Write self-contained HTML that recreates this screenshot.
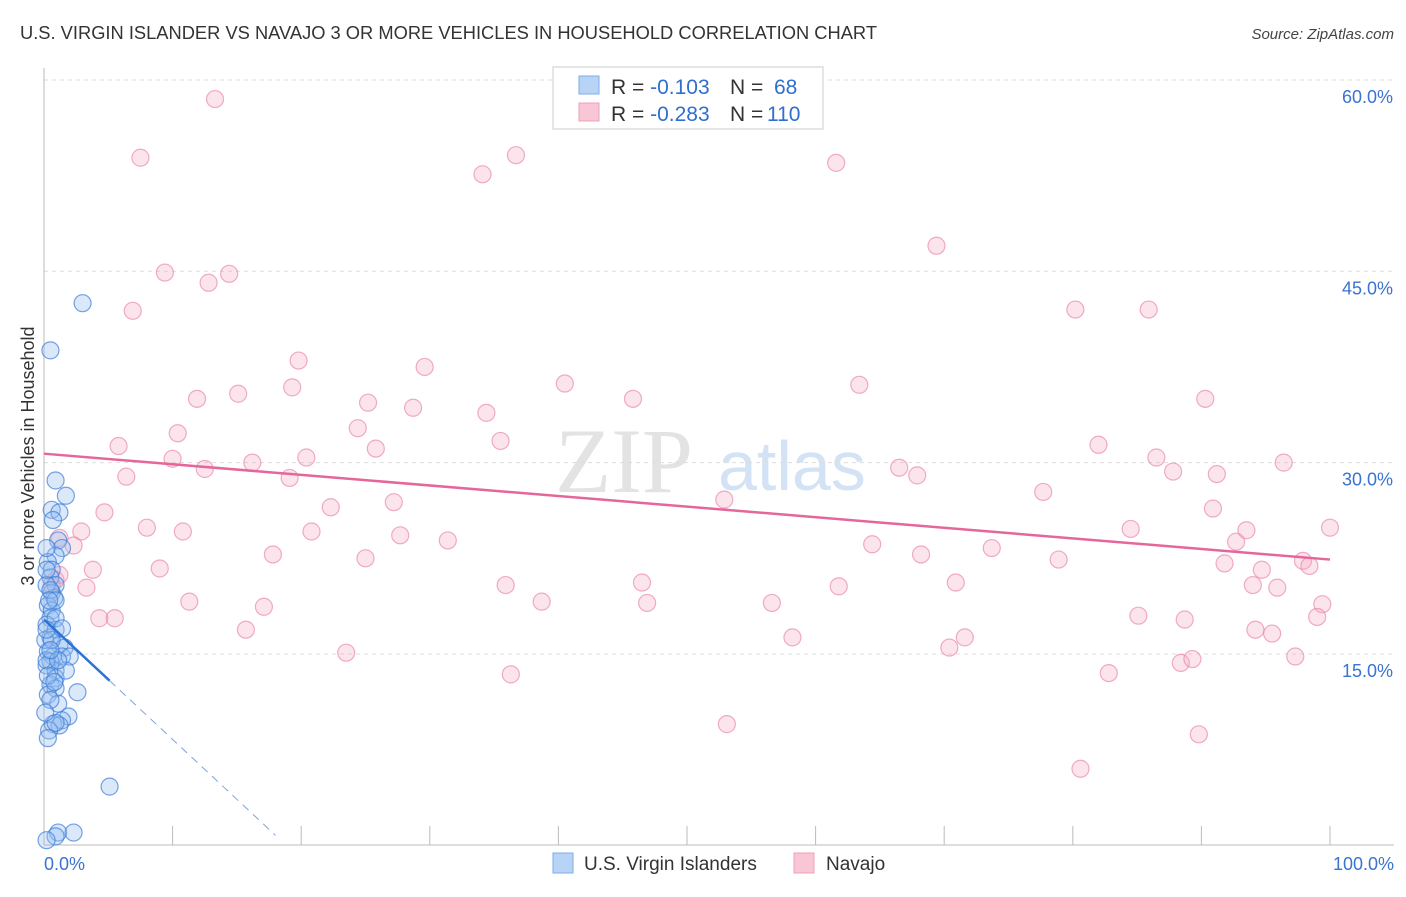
<!DOCTYPE html>
<html><head><meta charset="utf-8"><style>
body{margin:0;background:#fff;font-family:"Liberation Sans",sans-serif}
svg text{font-family:"Liberation Sans",sans-serif}
</style></head><body>
<svg id="chart" width="1406" height="892" xmlns="http://www.w3.org/2000/svg">
<text x="20" y="39" font-size="18" fill="#333" textLength="857" lengthAdjust="spacingAndGlyphs">U.S. VIRGIN ISLANDER VS NAVAJO 3 OR MORE VEHICLES IN HOUSEHOLD CORRELATION CHART</text>
<text x="1394" y="39" font-size="15" fill="#444" font-style="italic" text-anchor="end">Source: ZipAtlas.com</text>
<g opacity="0.5">
<text x="555" y="492" font-size="92" fill="#c8c8c8" font-family="Liberation Serif" style="font-family:'Liberation Serif',serif">ZIP</text>
<text x="718" y="490" font-size="70" fill="#a8c8ec">atlas</text>
</g>
<g id="grid"></g>
<g id="axes"></g>
<g id="pink"></g>
<g id="blue"></g>
<g id="trends"></g>
<text transform="translate(34,456) rotate(-90)" font-size="18" fill="#333" text-anchor="middle">3 or more Vehicles in Household</text>
<g>
<rect x="553" y="67" width="270" height="62" fill="#fff" stroke="#ccc"/>
<rect x="579" y="76" width="20" height="18" fill="#b7d3f5" stroke="#7eaee6"/>
<rect x="579" y="103" width="20" height="18" fill="#f9c6d6" stroke="#eca0b8"/>
<text x="611" y="94" font-size="21" fill="#333">R = <tspan fill="#2f6fd1">-0.103</tspan><tspan x="730">N = </tspan><tspan x="774" fill="#2f6fd1">68</tspan></text>
<text x="611" y="121" font-size="21" fill="#333">R = <tspan fill="#2f6fd1">-0.283</tspan><tspan x="730">N = </tspan><tspan x="767" fill="#2f6fd1">110</tspan></text>
</g>
<g>
<rect x="553" y="853" width="20" height="20" fill="#b7d3f5" stroke="#7eaee6"/>
<text x="584" y="870" font-size="19" fill="#333">U.S. Virgin Islanders</text>
<rect x="794" y="853" width="20" height="20" fill="#f9c6d6" stroke="#eca0b8"/>
<text x="826" y="870" font-size="19" fill="#333">Navajo</text>
</g>
</svg>
<script>
const yTicks=[15,30,45,60];
const xTickLabels=["0.0%","100.0%"];
const pinkX=[13.3,7.5,36.7,34.1,61.6,69.4,9.4,14.4,12.8,6.9,80.2,85.9,19.8,29.6,40.5,19.3,63.4,11.9,15.1,25.2,28.7,45.8,90.3,34.4,24.4,10.4,5.8,25.8,35.5,82.0,10.0,16.2,20.4,12.5,86.5,6.4,19.1,66.5,67.9,87.8,91.2,96.4,27.2,52.9,77.7,90.9,22.3,4.7,8.0,10.8,20.8,27.7,31.4,84.5,93.5,2.9,1.2,2.3,64.4,92.7,100.0,17.8,25.0,68.2,73.7,78.9,91.8,97.9,98.4,3.8,9.0,0.9,3.3,35.9,46.5,70.9,61.8,94.0,94.7,95.9,11.3,17.1,38.7,46.9,56.6,99.4,4.3,5.5,15.7,85.1,88.7,99.0,58.2,71.6,94.2,95.5,70.4,23.5,88.4,89.3,97.3,36.3,82.8,53.1,89.8,80.6,1.2,0.6];
const pinkY=[58.5,53.9,54.1,52.6,53.5,47.0,44.9,44.8,44.1,41.9,42.0,42.0,38.0,37.5,36.2,35.9,36.1,35.0,35.4,34.7,34.3,35.0,35.0,33.9,32.7,32.3,31.3,31.1,31.7,31.4,30.3,30.0,30.4,29.5,30.4,28.9,28.8,29.6,29.0,29.3,29.1,30.0,26.9,27.1,27.7,26.4,26.5,26.1,24.9,24.6,24.6,24.3,23.9,24.8,24.7,24.6,24.1,23.5,23.6,23.8,24.9,22.8,22.5,22.8,23.3,22.4,22.1,22.3,21.9,21.6,21.7,20.8,20.2,20.4,20.6,20.6,20.3,20.4,21.6,20.2,19.1,18.7,19.1,19.0,19.0,18.9,17.8,17.8,16.9,18.0,17.7,17.9,16.3,16.3,16.9,16.6,15.5,15.1,14.3,14.6,14.8,13.4,13.5,9.5,8.7,6.0,21.2,20.4];
const blueX=[3.0,0.5,0.9,1.7,0.6,1.2,0.7,1.1,1.4,0.9,0.3,0.6,0.5,0.9,0.6,0.8,0.3,0.6,0.5,0.2,0.9,0.5,1.2,1.6,0.3,0.7,1.4,0.5,0.2,0.9,0.9,0.5,0.9,0.3,2.6,1.1,1.9,0.7,1.4,1.2,0.4,0.3,5.1,1.1,2.3,0.9,0.2,2.0,1.7,0.5,0.9,0.2,0.1,0.2,0.1,0.2,0.5,0.9,0.6,0.3,0.9,0.4,0.2,1.1,1.4,0.8,0.5,0.2];
const blueY=[42.5,38.8,28.6,27.4,26.3,26.1,25.5,23.9,23.3,22.7,22.2,21.6,21.0,20.4,19.8,19.4,18.8,18.4,17.8,17.3,16.9,16.3,15.7,15.5,15.2,14.8,14.8,14.4,14.1,13.7,13.1,12.6,12.3,11.8,12.0,11.1,10.1,9.5,9.8,9.4,9.0,8.4,4.6,1.0,1.0,0.7,0.4,14.8,13.7,11.4,9.6,20.4,16.1,14.5,10.4,23.3,20.0,19.2,16.1,13.3,17.8,19.2,21.6,14.5,17.0,12.8,15.3,16.9];
const pinkTrend=[30.7,22.4];      // y at x=0, x=100
const blueTrend=[17.7,-0.94];     // intercept, slope
const blueSolidEnd=5.1, blueDashEnd=18.0;

const NS="http://www.w3.org/2000/svg";
const X0=44,X1=1330,YB=845.3,YPER=12.756;
const sx=v=>X0+(X1-X0)*v/100, sy=v=>YB-v*YPER;
function mk(tag,attrs,parent){const e=document.createElementNS(NS,tag);for(const k in attrs)e.setAttribute(k,attrs[k]);parent.appendChild(e);return e;}
const grid=document.getElementById('grid'),axes=document.getElementById('axes');
yTicks.forEach(t=>{
  const l=mk('line',{x1:44,x2:1394,y1:sy(t),y2:sy(t),stroke:'#ddd','stroke-dasharray':'4,4'},grid);
  
  
  const tx=mk('text',{x:1393,y:sy(t)+23,'font-size':18,fill:'#3a73d0','text-anchor':'end'},axes);
  tx.textContent=t.toFixed(1)+'%';
  
  
});
mk('line',{x1:44,x2:44,y1:68,y2:845,stroke:'#bbb'},axes);
mk('line',{x1:44,x2:1394,y1:845,y2:845,stroke:'#bbb'},axes);
for(let i=1;i<=10;i++){const t=mk('line',{x1:sx(i*10),x2:sx(i*10),y1:826,y2:845,stroke:'#bbb'},axes);
  
  }
[[0,'start',xTickLabels[0],44],[100,'end',xTickLabels[1],1394]].forEach(a=>{
  const t=mk('text',{x:a[3],y:870,'font-size':18,fill:'#3a73d0','text-anchor':a[1]},axes);t.textContent=a[2];
  
  });
const pg=document.getElementById('pink');
pinkX.forEach((x,i)=>{const c=mk('circle',{cx:sx(x),cy:sy(pinkY[i]),r:8.5,fill:'rgba(244,167,193,0.3)',stroke:'rgba(232,130,165,0.65)','stroke-width':1.2},pg);
  
  });
const bg=document.getElementById('blue');
blueX.forEach((x,i)=>{const c=mk('circle',{cx:sx(x),cy:sy(blueY[i]),r:8.5,fill:'rgba(150,190,240,0.35)',stroke:'rgba(60,125,215,0.7)','stroke-width':1.2},bg);
  
  });
const tg=document.getElementById('trends');
const pl=mk('line',{x1:sx(0),y1:sy(pinkTrend[0]),x2:sx(100),y2:sy(pinkTrend[1]),stroke:'#e5679a','stroke-width':2.5},tg);


const by=x=>blueTrend[0]+blueTrend[1]*x;
const bl=mk('line',{x1:sx(0),y1:sy(by(0)),x2:sx(blueSolidEnd),y2:sy(by(blueSolidEnd)),stroke:'#2f72d6','stroke-width':2.5},tg);


const bd=mk('line',{x1:sx(blueSolidEnd),y1:sy(by(blueSolidEnd)),x2:sx(blueDashEnd),y2:sy(by(blueDashEnd)),stroke:'#7aa6e0','stroke-width':1,'stroke-dasharray':'8,6'},tg);


</script>
</body></html>
